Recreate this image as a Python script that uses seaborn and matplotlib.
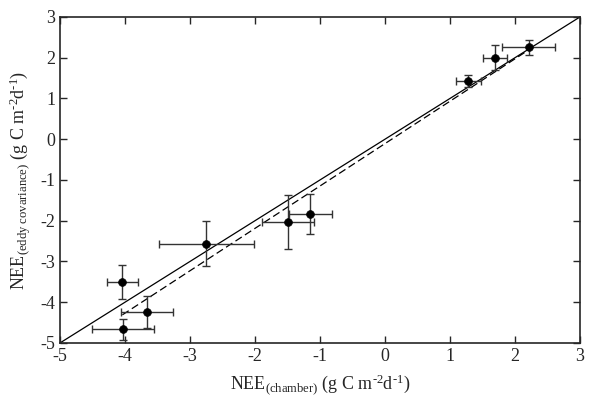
import numpy as np
import pandas as pd
import seaborn as sns
import matplotlib.pyplot as plt

# NEE values (g C m-2 d-1)
nee_chamber = [-4.04, -3.66, -4.03, -2.75, -1.50, -1.15, 1.28, 1.69, 2.21]
nee_eddy = [-3.50, -4.24, -4.66, -2.56, -2.04, -1.83, 1.43, 2.00, 2.25]
chamber_err = [0.24, 0.40, 0.48, 0.73, 0.40, 0.33, 0.19, 0.19, 0.41]
eddy_err = [0.42, 0.40, 0.26, 0.55, 0.66, 0.49, 0.14, 0.31, 0.19]

# 1:1 line and fitted regression line
one_to_one = [-5, 3]
fit_x = [-4.04, 2.2]
fit_y = [-4.31, 2.18]

ticks = [-5, -4, -3, -2, -1, 0, 1, 2, 3]

sns.set_style("ticks")
plt.rcParams["font.family"] = ["Liberation Serif", "DejaVu Serif"]
plt.rcParams["mathtext.fontset"] = "custom"
plt.rcParams["mathtext.rm"] = "Liberation Serif"
plt.rcParams["mathtext.it"] = "Liberation Serif:italic"
plt.rcParams["axes.unicode_minus"] = False

df = pd.DataFrame({"chamber": nee_chamber, "eddy": nee_eddy})

fig = plt.figure(figsize=(6, 4.03), dpi=100)
ax = fig.add_axes([0.1, 0.149, 0.8667, 0.809])

sns.lineplot(x=one_to_one, y=one_to_one, ax=ax, color="black", lw=0.9)
sns.lineplot(x=fit_x, y=fit_y, ax=ax, color="black", lw=0.9, linestyle=(0, (6, 3)))

ax.errorbar(nee_chamber, nee_eddy, xerr=chamber_err, yerr=eddy_err, fmt="none",
            ecolor="#333333", elinewidth=1, capsize=3, capthick=1, zorder=3)
sns.scatterplot(data=df, x="chamber", y="eddy", ax=ax, color="black", s=32,
                edgecolor="black", zorder=4)

ax.set_xlim(-5, 3)
ax.set_ylim(-5, 3)
ax.set_xticks(ticks)
ax.set_yticks(ticks)
ax.tick_params(direction="in", top=True, right=True, labelsize=13, length=5, width=1)
for s in ax.spines.values():
    s.set_linewidth(1.2)

unit = r"(g C m$^{\text{-2}}$d$^{\text{-1}}$)"
ax.set_xlabel(r"NEE$_{\text{(chamber)}}$ " + unit, fontsize=13, labelpad=6)
ax.set_ylabel(r"NEE$_{\text{(eddy covariance)}}$ " + unit, fontsize=13, labelpad=6)

fig.savefig("out.png", dpi=100)
